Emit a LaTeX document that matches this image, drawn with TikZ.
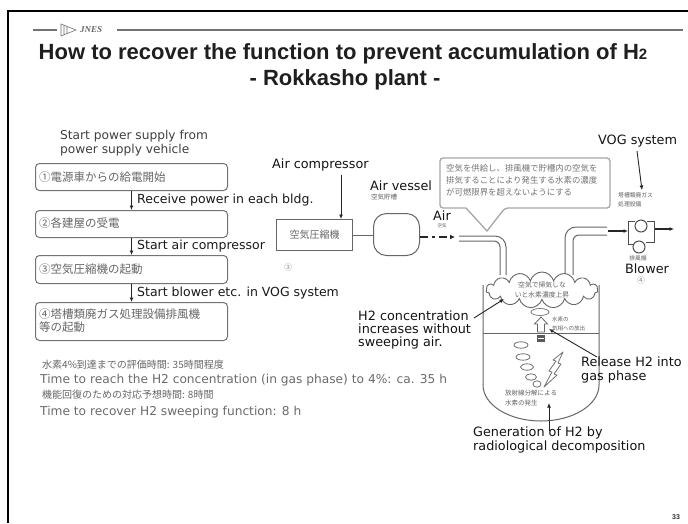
\documentclass[tikz,border=0pt]{standalone}
\usepackage{fontspec}
\setmainfont{DejaVu Sans}
\newfontfamily\titlefont{Liberation Sans}
\newfontfamily\logofont{Liberation Serif}
\newfontfamily\jpfont{Noto Sans CJK JP}
\usetikzlibrary{arrows.meta,shapes.symbols,calc}

\tikzset{
  lbl/.style={font=\fontsize{12.8}{14}\selectfont, text=black!92, inner sep=0, anchor=west, align=left},
  steplbl/.style={font=\fontsize{12.5}{14}\selectfont, text=black!90, inner sep=0, anchor=west, align=left},
  note/.style={font=\fontsize{12.2}{14}\selectfont, text=black!58, inner sep=0, anchor=west},
  jp/.style={font=\jpfont\fontsize{11.5}{13}\selectfont, text=black!60, inner sep=0, anchor=west, align=left},
  jpsmall/.style={font=\jpfont\fontsize{6.5}{8.5}\selectfont, text=black!62, inner sep=0, align=left},
  stepbox/.style={draw=black!55, line width=1, rounded corners=4, inner sep=0},
  arr/.style={-{Latex[length=4.5pt,width=4pt]}, line width=0.9, draw=black!85},
  pipe/.style={draw=black!60, line width=1},
}

\begin{document}
\begin{tikzpicture}[x=1pt,y=-1pt]
\useasboundingbox (0,0) rectangle (688,523);
\fill[white] (0,0) rectangle (688,523);

% frame
\draw[line width=2, black] (8,523) -- (8,11) -- (688,11);

% header rule with logo
\coordinate (hdA) at (33,30);
\coordinate (hdB) at (57,30);
\coordinate (hdC) at (117,30);
\coordinate (hdD) at (683,30);
\draw[line width=1.6, black!55] (hdA) -- (hdB);
\draw[line width=1.6, black!55] (hdC) -- (hdD);
\draw[black!55, line width=0.6] (61,24) -- (76,30) -- (61,36) -- cycle
  (64,25.5) -- (64,34.5) (67,26.5) -- (67,33.5);
\node[font=\logofont\bfseries\itshape\fontsize{9}{9}\selectfont, text=black!60, anchor=west, inner sep=0] (logo) at (80,30) {JNES};

% title
\node[font=\titlefont\bfseries\fontsize{22}{26}\selectfont, text=black!88, anchor=base, inner sep=0] (title) at (343,59)
  {How to recover the function to prevent accumulation of H{\fontsize{15}{15}\selectfont 2}};
\node[font=\titlefont\bfseries\fontsize{22}{26}\selectfont, text=black!88, anchor=base, inner sep=0] (subtitle) at (345,85)
  {- Rokkasho plant -};

% ---------------- left: recovery steps ----------------
\node[steplbl, text=black!75, font=\fontsize{12.2}{14}\selectfont] (start) at (60,143) {Start power supply from\\power supply vehicle};

\node[stepbox, minimum width=192, minimum height=27, anchor=north west] (s1) at (35,163) {};
\node[stepbox, minimum width=192, minimum height=27, anchor=north west] (s2) at (35,210) {};
\node[stepbox, minimum width=192, minimum height=28, anchor=north west] (s3) at (35,255) {};
\node[stepbox, minimum width=192, minimum height=38, anchor=north west] (s4) at (35,302) {};

\node[jp] (t1) at (39,177) {①電源車からの給電開始};
\node[jp] (t2) at (39,223) {②各建屋の受電};
\node[jp] (t3) at (39,269) {③空気圧縮機の起動};
\node[jp] (t4) at (39,321) {④塔槽類廃ガス処理設備排風機\\等の起動};

\draw[arr] (s1.south) -- (s2.north);
\draw[arr] (s2.south) -- (s3.north);
\draw[arr] (s3.south) -- (s4.north);

\node[steplbl] (l1) at (137,200) {Receive power in each bldg.};
\node[steplbl] (l2) at (137,246) {Start air compressor};
\node[steplbl] (l3) at (137,293) {Start blower etc. in VOG system};

% time estimates
\node[jp, font=\jpfont\fontsize{10}{12}\selectfont] (n1) at (42,365) {水素4\%到達までの評価時間: 35時間程度};
\node[note] (n2) at (40,380) {Time to reach the H2 concentration (in gas phase) to 4\%: ca. 35 h};
\node[jp, font=\jpfont\fontsize{10}{12}\selectfont] (n3) at (42,395) {機能回復のための対応予想時間: 8時間};
\node[note] (n4) at (40,412) {Time to recover H2 sweeping function: 8 h};

% ---------------- right: sweeping air system ----------------
% air compressor
\node[lbl] (aclbl) at (272,165) {Air compressor};
\node[draw=black!60, line width=1, minimum width=76, minimum height=31, anchor=north west, inner sep=0] (comp) at (276,219) {};
\node[jp, anchor=center, font=\jpfont\fontsize{10}{12}\selectfont] at (comp.center) {空気圧縮機};
\node[jp, anchor=center, font=\jpfont\fontsize{8}{8}\selectfont, text=black!45] (c3) at (288,267) {③};
\coordinate (acTail) at (341,175);
\draw[arr] (acTail) -- (comp.north -| acTail);

% air vessel
\node[draw=black!60, line width=1, rounded corners=13, minimum width=46, minimum height=42, anchor=north west, inner sep=0] (vessel) at (373,213) {};
\draw[black!60, line width=1] (comp.east) -- (vessel.west |- comp.east);
\node[lbl] (avlbl) at (370,186) {Air vessel};
\node[jpsmall, anchor=west] (avjp) at (371,197) {空気貯槽};

% air flow
\coordinate (airEnd) at (455,237);
\draw[line width=1.8, black!85, dash pattern=on 8pt off 4pt on 2.5pt off 4pt, -{Latex[length=5pt,width=5pt]}] (vessel.east |- airEnd) -- (airEnd);
\node[lbl, anchor=center] (air) at (442,216) {Air};
\node[jpsmall, anchor=center, font=\jpfont\fontsize{4.5}{5}\selectfont] (airjp) at (442,226) {空気};

% callout
\draw[draw=black!35, line width=1.3, rounded corners=3, fill=white]
  (440,158) -- (610,158) -- (610,208) -- (505,208) [sharp corners] -- (487,231) -- (466,208) [rounded corners=3] -- (440,208) -- cycle;
\node[jpsmall, anchor=west, font=\jpfont\fontsize{8.4}{12}\selectfont, text=black!55] (callout) at (446,180)
  {空気を供給し、排風機で貯槽内の空気を\\排気することにより発生する水素の濃度\\が可燃限界を超えないようにする};

% tank
\draw[black!60, line width=1] (483,285) -- (483,385) arc[start angle=180, end angle=0, x radius=58, y radius=36] -- (599,285);
\draw[black!60, line width=1] (483,333) -- (599,333);

% inlet and outlet pipes
\draw[pipe, rounded corners=11] (459,236) -- (506,236) -- (506,275);
\draw[pipe, rounded corners=6] (459,241) -- (500,241) -- (500,275);
\draw[pipe, rounded corners=11] (565,275) -- (565,227) -- (607,227);
\draw[pipe, rounded corners=6] (573,275) -- (573,235) -- (607,235);

% gas cloud in the tank head
\node[cloud, cloud puffs=15, cloud ignores aspect, draw=black!60, line width=0.9, fill=white,
      minimum width=112, minimum height=36, inner sep=0] (cloud) at (542,290) {};
\node[jpsmall, anchor=center, align=center, font=\jpfont\fontsize{6.8}{10}\selectfont] at (cloud.center) {空気で掃気しな\\いと水素濃度上昇};

% release into gas phase
\draw[black!55, line width=0.7] (540,312) ellipse (9 and 3.5);
\draw[black!60, line width=0.8, fill=white] (537.5,332) -- (537.5,324) -- (534.5,324) -- (541,317) -- (547.5,324) -- (544.5,324) -- (544.5,332) -- cycle;
\fill[black!65] (537,335) rectangle (545,342);
\draw[white, line width=0.6] (538,338.5) -- (544,338.5);
\node[jpsmall, anchor=west, font=\jpfont\fontsize{5.5}{9}\selectfont] (reljp) at (552,324) {水素の\\気相への放出};

% bubbles and radiation
\foreach \bx/\by/\rx in {521/345/7, 523/357/7, 527/367/6.5, 531/377/5.5, 537/384/4}
  \draw[black!55, line width=0.8] (\bx,\by) ellipse (\rx pt and 3.2pt);
\draw[black!55, line width=0.8, line join=round] (544,387) -- (552,372) -- (549,371) -- (556,361) -- (553,360) -- (563,352)
  -- (558,363) -- (561,364) -- (554,374) -- (557,375) -- cycle;
\node[jpsmall, anchor=west, font=\jpfont\fontsize{6.5}{9.5}\selectfont] (genjp) at (505,398) {放射線分解による\\水素の発生};

% outlet to blower
\coordinate (blIn) at (628,231);
\draw[arr, line width=1.3] (608,231) -- (blIn);
\draw[black!70, line width=1] (628,221) -- (635,221);
\draw[black!70, line width=1] (628,221) -- (628,244) -- (633,244);
\draw[black!70, line width=1] (647,221) -- (654,221) -- (654,242) -- (646,242);
\draw[black!70, line width=1, fill=white] (641,226) circle (6);
\draw[black!70, line width=1, fill=white] (639,247) circle (6);
\coordinate (blOut) at (674,229);
\draw[arr, line width=1.3] (655,229) -- (blOut);

\node[lbl] (vog) at (598,141) {VOG system};
\node[jpsmall, anchor=west, font=\jpfont\fontsize{5.8}{9}\selectfont] (vogjp) at (618,200) {塔槽類廃ガス\\処理設備};
\coordinate (vogTip) at (642,190);
\draw[arr] (637,151) -- (vogTip);
\node[jpsmall, anchor=center, font=\jpfont\fontsize{5.8}{7}\selectfont] (bljp) at (638,258) {排風機};
\node[lbl, anchor=center] (blower) at (647,269) {Blower};
\node[jp, anchor=center, font=\jpfont\fontsize{8}{8}\selectfont, text=black!45] (c4) at (641,280) {④};

% annotations
\node[lbl, font=\fontsize{12.8}{13.2}\selectfont] (conc) at (358,330) {H2 concentration\\increases without\\sweeping air.};
\coordinate (concTip) at (504,299);
\draw[arr] (474,318) -- (concTip);

\node[lbl] (rel) at (581,370) {Release H2 into\\gas phase};
\coordinate (relTip) at (549,329);
\draw[arr] (597,357) -- (relTip);

\node[lbl] (gen) at (473,440) {Generation of H2 by\\radiological decomposition};
\coordinate (genTip) at (549,403);
\draw[arr] (549,431) -- (genTip);

% page number
\node[font=\titlefont\bfseries\fontsize{7}{7}\selectfont, text=black!80, inner sep=0] (page) at (676,517) {33};
\end{tikzpicture}
\end{document}
